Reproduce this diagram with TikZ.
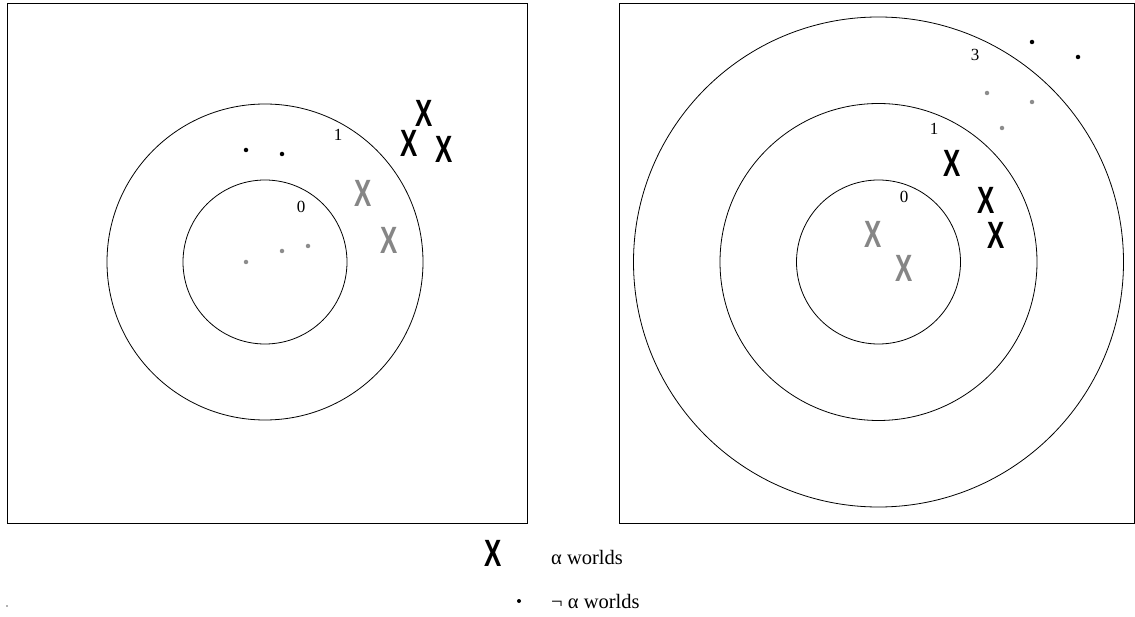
\documentclass[tikz,border=0pt]{standalone}
\usepackage{fontspec}
\setmainfont{Liberation Serif}
\newfontfamily\xfont{Liberation Sans}
\begin{document}
\begin{tikzpicture}[x=1pt,y=-1pt,
  ring/.style={draw=black,line width=0.8pt},
  frame/.style={draw=black,line width=0.8pt},
  bigx/.style={font=\xfont\bfseries\fontsize{38}{38}\selectfont,xscale=0.68,inner sep=0pt},
  blackx/.style={bigx,text=black},
  greyx/.style={bigx,text=gray!95},
  bdot/.style={circle,fill=black,inner sep=0pt,minimum size=4.5pt},
  gdot/.style={circle,fill=gray!90,inner sep=0pt,minimum size=4.5pt},
  lab/.style={font=\fontsize{17}{17}\selectfont,inner sep=0pt},
  leg/.style={font=\fontsize{20.5}{20.5}\selectfont,inner sep=0pt,anchor=west}]
\useasboundingbox (0,0) rectangle (1135,617);
% left panel
\draw[frame] (7,3) rectangle (527,523);
\draw[ring] (265,262) circle (82);
\draw[ring] (265,262) circle (158);
\node[lab] (l1) at (338,135) {1};
\node[lab] (l0) at (301,207) {0};
\node[blackx] (lx1) at (424,113) {X};
\node[blackx] (lx2) at (409,143) {X};
\node[blackx] (lx3) at (444,149) {X};
\node[greyx] (lx4) at (363,193) {X};
\node[greyx] (lx5) at (389,240) {X};
\node[bdot] (ld1) at (246,150) {};
\node[bdot] (ld2) at (282,154) {};
\node[gdot] (ld3) at (246,262) {};
\node[gdot] (ld4) at (282,251) {};
\node[gdot] (ld5) at (308,246) {};
% right panel
\draw[frame] (619,3) rectangle (1134,523);
\draw[ring] (878.5,262) circle (82);
\draw[ring] (878.5,262) circle (158.5);
\draw[ring] (878.5,262) circle (245);
\node[lab] (r3) at (975,55) {3};
\node[lab] (r1) at (934,129) {1};
\node[lab] (r0) at (904,197) {0};
\node[bdot] (rd1) at (1032,42) {};
\node[bdot] (rd2) at (1078,57) {};
\node[gdot] (rd3) at (987,93) {};
\node[gdot] (rd4) at (1032,102) {};
\node[gdot] (rd5) at (1002,128) {};
\node[blackx] (rx1) at (952,163) {X};
\node[blackx] (rx2) at (986,200) {X};
\node[blackx] (rx3) at (996,235) {X};
\node[greyx] (rx4) at (873,234) {X};
\node[greyx] (rx5) at (904,268) {X};
% legend
\node[blackx] (kx) at (493,553) {X};
\node[leg] (kxt) at (551,557) {α worlds};
\node[bdot,minimum size=4pt] (kd) at (519,601) {};
\node[leg] (kdt) at (551,601) {¬ α worlds};
\node[fill=gray!60,inner sep=0pt,minimum size=1.2pt] (tiny) at (7,606) {};
\end{tikzpicture}
\end{document}
